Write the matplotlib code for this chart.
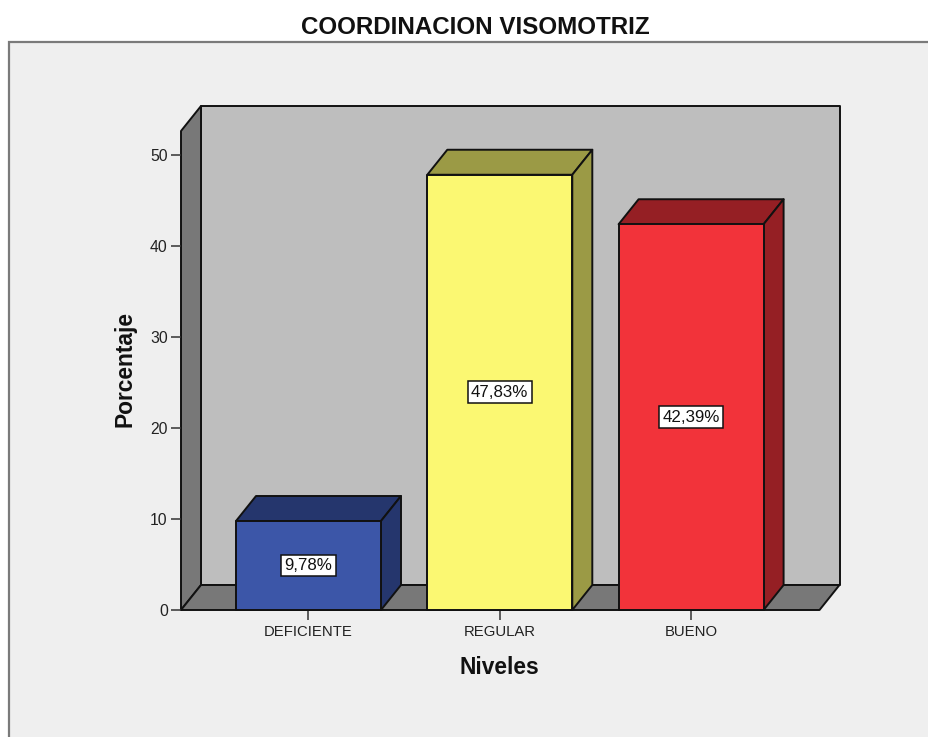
import matplotlib
matplotlib.use("Agg")
import matplotlib.pyplot as plt
from matplotlib.patches import Polygon, Rectangle

plt.rcParams['font.family'] = ['Liberation Sans', 'DejaVu Sans']

categories = ["DEFICIENTE", "REGULAR", "BUENO"]
values = [9.78, 47.83, 42.39]
value_labels = ["9,78%", "47,83%", "42,39%"]
front_colors = ["#3C56A8", "#FBF872", "#F2333A"]
dark_colors = ["#25366D", "#9B9A45", "#951F24"]
yticks = [0, 10, 20, 30, 40, 50]

W, H = 929, 737
fig = plt.figure(figsize=(W / 100, H / 100), dpi=100, facecolor="white")

# chart panel
fig.patches.append(Rectangle((9.5 / W, -0.01), 1.02, 1.01 - 41.5 / H, transform=fig.transFigure,
                             facecolor="#EFEFEF", edgecolor="#7A7A7A", linewidth=1.6, zorder=-1))

L, R, B, T = 181, 819.5, 610, 131
ax = fig.add_axes([L / W, 1 - B / H, (R - L) / W, (B - T) / H])
ax.patch.set_visible(False)
px_x = 191.3
px_y = 9.1
x0 = -(308.5 - L) / px_x
x1 = x0 + (R - L) / px_x
y1 = (B - T) / px_y
ax.set_xlim(x0, x1)
ax.set_ylim(0, y1)
for s in ax.spines.values():
    s.set_visible(False)

dx = 20 / px_x
dy = 25 / px_y
edge = dict(edgecolor="#111111", linewidth=1.4, joinstyle="round")

def poly(pts, color, z):
    ax.add_patch(Polygon(pts, closed=True, facecolor=color, clip_on=False, zorder=z, **edge))

# walls
poly([(x0 + dx, dy), (x1 + dx, dy), (x1 + dx, y1 + dy), (x0 + dx, y1 + dy)], "#BEBEBE", 1)
poly([(x0, 0), (x0 + dx, dy), (x0 + dx, y1 + dy), (x0, y1)], "#787878", 1.1)
poly([(x0, 0), (x1, 0), (x1 + dx, dy), (x0 + dx, dy)], "#787878", 1.2)

# bars
bar_w = 145 / px_x
for i, (v, lab, fc, dc) in enumerate(zip(values, value_labels, front_colors, dark_colors)):
    l, r = i - bar_w / 2, i + bar_w / 2
    z = 2 + i
    poly([(l, v), (r, v), (r + dx, v + dy), (l + dx, v + dy)], dc, z)
    poly([(r, 0), (r + dx, dy), (r + dx, v + dy), (r, v)], dc, z)
    ax.bar(i, v, width=bar_w, color=fc, zorder=z + 0.1, clip_on=False, **edge)
    ax.text(i, v / 2, lab, ha="center", va="center", fontsize=12.2, color="#111111", zorder=z + 0.2,
            bbox=dict(boxstyle="square,pad=0.2", facecolor="white", edgecolor="#111111", linewidth=1.1))

ax.set_xticks(range(len(categories)))
ax.set_xticklabels(categories)
ax.set_yticks(yticks)
ax.tick_params(axis="x", length=7, width=1.1, color="#333333", labelsize=10.7, labelcolor="#222222", pad=4)
ax.tick_params(axis="y", length=7.5, width=1.1, color="#333333", labelsize=11.3, labelcolor="#222222", pad=2)

ax.set_xlabel("Niveles", fontsize=16.4, fontweight="bold", color="#111111")
ax.xaxis.set_label_coords((499.5 - L) / (R - L), (B - 668) / (B - T), transform=ax.transAxes)
ax.xaxis.label.set_va("center")
ax.set_ylabel("Porcentaje", fontsize=16.4, fontweight="bold", color="#111111")
ax.yaxis.set_label_coords((125 - L) / (R - L), (B - 369) / (B - T), transform=ax.transAxes)
ax.yaxis.label.set_va("center")

fig.text(475.5 / W, 1 - 27.5 / H, "COORDINACION VISOMOTRIZ", ha="center", va="center",
         fontsize=17.4, fontweight="bold", color="#111111")

fig.savefig("out.png", dpi=100)
